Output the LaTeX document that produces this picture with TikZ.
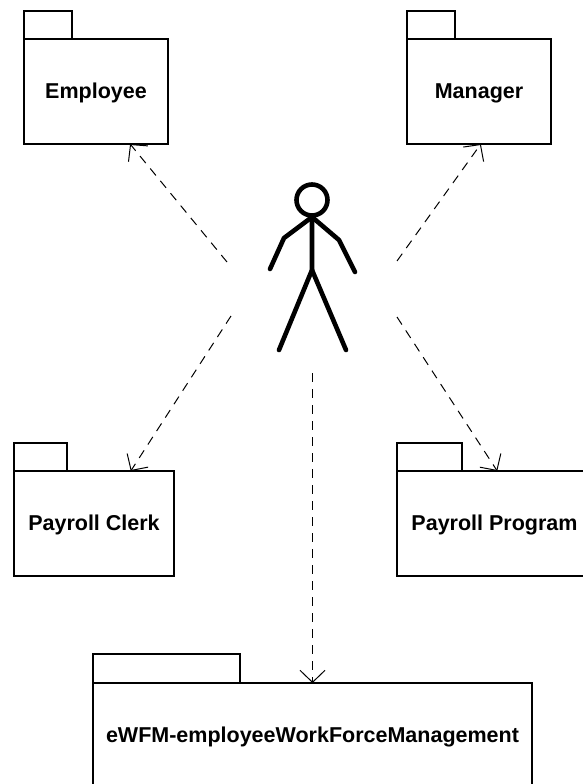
\documentclass[tikz,border=0pt]{standalone}
\usepackage{fontspec}
\setmainfont{Liberation Sans}
\usetikzlibrary{arrows.meta}
\begin{document}
\begin{tikzpicture}[x=1pt,y=-1pt,
  pkg/.style={draw,line width=1.4pt,fill=white,inner sep=0pt,outer sep=0pt,
    font=\fontsize{21.5}{25}\selectfont\bfseries},
  body 1/.style={pkg,minimum height=105pt,text height=19pt,text depth=4.5pt},
  tabbox/.style={pkg,minimum height=28pt,anchor=south west},
  dep/.style={dashed,dash pattern=on 9pt off 7pt,line width=1pt,
    -{Straight Barb[length=12pt,width=25pt,line width=1pt]}},
  stick/.style={line width=4.6pt,line cap=round,line join=round}]
  \useasboundingbox (0,0) rectangle (582,784);
  % packages
  \node[body 1,minimum width=144pt] (employee) at (96,91.5) {Employee};
  \node[body 1,minimum width=144pt] (manager) at (479,91.5) {Manager};
  \node[body 1,minimum width=160pt] (clerk) at (94,523.5) {Payroll Clerk};
  \node[body 1,minimum width=195pt] (program) at (494.5,523.5) {Payroll Program};
  \node[body 1,minimum width=439pt,minimum height=104pt] (ewfm) at (312.5,735) {eWFM-employeeWorkForceManagement};
  \node[tabbox,minimum width=48pt] (employeetab) at (employee.north west) {};
  \node[tabbox,minimum width=48pt] (managertab) at (manager.north west) {};
  \node[tabbox,minimum width=53pt] (clerktab) at (clerk.north west) {};
  \node[tabbox,minimum width=65pt] (programtab) at (program.north west) {};
  \node[tabbox,minimum width=147pt,minimum height=29pt] (ewfmtab) at (ewfm.north west) {};
  % actor
  \node[circle,draw,line width=4.6pt,minimum size=31pt,inner sep=0pt,outer sep=0pt] (head) at (312,200) {};
  \coordinate (neck) at (312,217);
  \coordinate (hip) at (312,270);
  \coordinate (lelbow) at (284,238);
  \coordinate (lhand) at (270,269);
  \coordinate (relbow) at (339,240);
  \coordinate (rhand) at (355,272);
  \coordinate (lfoot) at (279,350);
  \coordinate (rfoot) at (346,350);
  \draw[stick] (head.south) -- (hip) -- (lfoot);
  \draw[stick] (hip) -- (rfoot);
  \draw[stick] (lhand) -- (lelbow) -- (neck) -- (relbow) -- (rhand);
  % dependencies
  \coordinate (fromemployee) at (227,262);
  \coordinate (frommanager) at (397,261);
  \coordinate (fromclerk) at (231,316);
  \coordinate (fromprogram) at (397,317);
  \coordinate (fromewfm) at (312.5,373);
  \draw[dep] (fromemployee) -- (employee.-57);
  \draw[dep] (frommanager) -- (manager.-88);
  \draw[dep] (fromclerk) -- (clerk.55);
  \draw[dep] (fromprogram) -- (program.87);
  \draw[dep] (fromewfm) -- (ewfm.north);
\end{tikzpicture}
\end{document}
